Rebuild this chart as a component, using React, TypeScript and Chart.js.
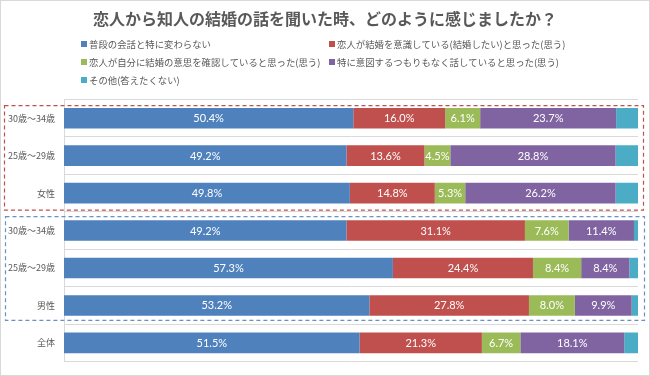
import { useEffect, useRef } from 'react';
import { Chart, registerables } from 'chart.js';
Chart.register(...registerables);

const title = '恋人から知人の結婚の話を聞いた時、どのように感じましたか？';
const categories = ['30歳～34歳', '25歳～29歳', '女性', '30歳～34歳', '25歳～29歳', '男性', '全体'];
const seriesNames = [
  '普段の会話と特に変わらない',
  '恋人が結婚を意識している(結婚したい)と思った(思う)',
  '恋人が自分に結婚の意思を確認していると思った(思う)',
  '特に意図するつもりもなく話していると思った(思う)',
  'その他(答えたくない)',
];
const usual = [50.4, 49.2, 49.8, 49.2, 57.3, 53.2, 51.5];
const conscious = [16.0, 13.6, 14.8, 31.1, 24.4, 27.8, 21.3];
const confirm = [6.1, 4.5, 5.3, 7.6, 8.4, 8.0, 6.7];
const noIntent = [23.7, 28.8, 26.2, 11.4, 8.4, 9.9, 18.1];
const other = [3.8, 3.9, 3.9, 0.7, 1.5, 1.1, 2.4];
const colors = ['#4f81bd', '#c0504d', '#9bbb59', '#8064a2', '#4bacc6'];

const JP = '"Noto Sans CJK JP", "Noto Sans", sans-serif';

const decorPlugin = {
  id: 'decor',
  afterDatasetsDraw(chart: any) {
    const ctx = chart.ctx;
    ctx.save();
    ctx.fillStyle = '#ffffff';
    ctx.font = '11px Lato, "Open Sans", sans-serif';
    ctx.textAlign = 'center';
    ctx.textBaseline = 'middle';
    for (let d = 0; d < 4; d++) {
      const meta = chart.getDatasetMeta(d);
      const ds = chart.data.datasets[d];
      meta.data.forEach((el: any, i: number) => {
        const p = el.getProps(['x', 'y', 'base'], true);
        ctx.fillText(Number(ds.data[i]).toFixed(1) + '%', (p.x + p.base) / 2, p.y + 0.5);
      });
    }
    ctx.restore();
  },
  afterDraw(chart: any) {
    const ctx = chart.ctx;
    const y = chart.scales.y;
    ctx.save();
    // outer border
    ctx.strokeStyle = '#d9d9d9';
    ctx.lineWidth = 1;
    ctx.strokeRect(0.5, 0.5, chart.width - 1, chart.height - 1);
    // title
    ctx.fillStyle = '#595959';
    ctx.font = 'bold 16px ' + JP;
    ctx.textAlign = 'center';
    ctx.textBaseline = 'middle';
    ctx.fillText(title, 325, 19);
    // legend
    ctx.font = '9.4px ' + JP;
    ctx.textAlign = 'left';
    const pos = [
      [81, 44], [329, 44], [81, 62], [329, 62], [81, 80],
    ];
    seriesNames.forEach((n, i) => {
      const [x, yy] = pos[i];
      ctx.fillStyle = colors[i];
      ctx.fillRect(x, yy - 3, 6, 6);
      ctx.fillStyle = '#595959';
      ctx.fillText(n, x + 8, yy + 0.5);
    });
    // dashed group boxes
    ctx.lineWidth = 1.2;
    ctx.setLineDash([4, 3]);
    ctx.strokeStyle = '#c0504d';
    const r0 = y.getPixelForValue(0) - 12.5;
    const r1 = y.getPixelForValue(2) + 17;
    ctx.strokeRect(4.5, r0, 639, r1 - r0);
    ctx.strokeStyle = '#6a90c4';
    const b0 = y.getPixelForValue(3) - 14;
    const b1 = y.getPixelForValue(5) + 15;
    ctx.strokeRect(5.5, b0, 639, b1 - b0);
    ctx.restore();
  },
};

export default function App() {
  const ref = useRef<HTMLCanvasElement | null>(null);
  useEffect(() => {
    document.body.style.margin = '0';
    const series = [usual, conscious, confirm, noIntent, other];
    const chart = new Chart(ref.current as HTMLCanvasElement, {
      type: 'bar',
      data: {
        labels: categories,
        datasets: series.map((d, i) => ({
          label: seriesNames[i],
          data: d,
          backgroundColor: colors[i],
          borderWidth: 0,
          barPercentage: 0.55,
          categoryPercentage: 1,
        })),
      },
      options: {
        indexAxis: 'y',
        animation: false,
        responsive: false,
        maintainAspectRatio: false,
        layout: { padding: { top: 99.5, right: 12, bottom: 11, left: 0 } },
        plugins: { legend: { display: false }, title: { display: false }, tooltip: { enabled: false } },
        scales: {
          x: { stacked: true, min: 0, max: 100, display: false },
          y: {
            stacked: true,
            grid: { color: '#d9d9d9', drawTicks: false, offset: true },
            border: { color: '#d9d9d9' },
            ticks: { color: '#595959', font: { family: JP, size: 9 }, padding: 9 },
            afterFit: (s: any) => { s.width = 64; },
          },
        },
      },
      plugins: [decorPlugin],
    } as any);
    return () => chart.destroy();
  }, []);
  return (
    <div style={{ width: 650, height: 376, background: '#fff' }}>
      <canvas ref={ref} width={650} height={376} style={{ display: 'block' }} />
    </div>
  );
}
